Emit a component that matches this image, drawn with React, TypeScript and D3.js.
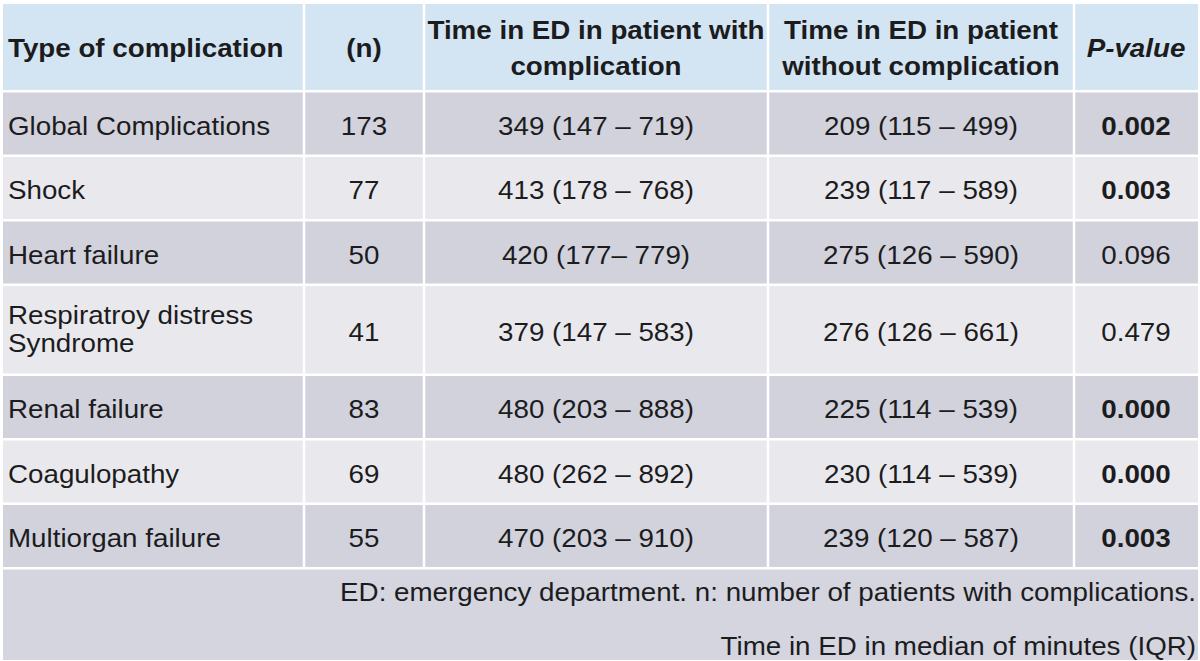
import React from "react";
import * as d3 from "d3";

const complications = [
  ["Global Complications"],
  ["Shock"],
  ["Heart failure"],
  ["Respiratroy distress", "Syndrome"],
  ["Renal failure"],
  ["Coagulopathy"],
  ["Multiorgan failure"],
];
const nCounts = ["173", "77", "50", "41", "83", "69", "55"];
const withComp = [
  "349 (147 – 719)",
  "413 (178 – 768)",
  "420 (177– 779)",
  "379 (147 – 583)",
  "480 (203 – 888)",
  "480 (262 – 892)",
  "470 (203 – 910)",
];
const withoutComp = [
  "209 (115 – 499)",
  "239 (117 – 589)",
  "275 (126 – 590)",
  "276 (126 – 661)",
  "225 (114 – 539)",
  "230 (114 – 539)",
  "239 (120 – 587)",
];
const pValues = ["0.002", "0.003", "0.096", "0.479", "0.000", "0.000", "0.003"];
const significant = [true, true, false, false, true, true, true];
const headers = [
  ["Type of complication"],
  ["(n)"],
  ["Time in ED in patient with", "complication"],
  ["Time in ED in patient", "without complication"],
  ["P-value"],
];
const footnotes = [
  "ED: emergency department. n: number of patients with complications.",
  "Time in ED in median of minutes (IQR)",
];

const W = 1200;
const H = 661;
const FONT = "'Liberation Sans', Arial, sans-serif";
const FS = 25;
const SX = 1.11;
const GAP = 2.5;

const colEdges = [3, 304, 424, 768, 1074, 1198];
const headerTop = 4;
const headerH = 86;
const rowH = 62;
const rowExtra = 25.5;

export default function App() {
  const rowHeights = complications.map((c) => rowH + (c.length - 1) * rowExtra);
  const rowTops: number[] = [];
  let y = headerTop + headerH + GAP;
  rowHeights.forEach((h) => {
    rowTops.push(y);
    y += h + GAP;
  });
  const footerTop = y;
  const footerH = 660 - footerTop;

  const rowColor = d3
    .scaleOrdinal<number, string>()
    .domain([0, 1])
    .range(["#d1d2dc", "#e9e9ed"]);

  const align = ["start", "middle", "middle", "middle", "middle"];
  const colX = (ci: number) => {
    if (ci === 0) return colEdges[0] + 5;
    return (colEdges[ci] + colEdges[ci + 1]) / 2;
  };

  const txt = (
    key: string,
    x: number,
    yc: number,
    s: string,
    anchor: string,
    weight = "normal",
    style = "normal"
  ) => (
    <text
      key={key}
      transform={`translate(${x},${yc}) scale(${SX},1)`}
      textAnchor={anchor as any}
      dominantBaseline="central"
      fontFamily={FONT}
      fontSize={FS}
      fontWeight={weight}
      fontStyle={style}
      fill="#1c1c1e"
    >
      {s}
    </text>
  );

  const lines = (
    key: string,
    x: number,
    top: number,
    h: number,
    arr: string[],
    anchor: string,
    gap: number,
    dy: number,
    weight = "normal",
    style = "normal"
  ) => {
    const mid = top + h / 2 + dy;
    const start = mid - ((arr.length - 1) * gap) / 2;
    return arr.map((s, i) =>
      txt(`${key}-${i}`, x, start + i * gap, s, anchor, weight, style)
    );
  };

  const cells: any[] = [];
  headers.forEach((hd, ci) => {
    const x0 = colEdges[ci] + (ci === 0 ? 0 : GAP / 2);
    const x1 = colEdges[ci + 1] - (ci === 4 ? 0 : GAP / 2);
    cells.push(
      <rect key={`h-${ci}`} x={x0} y={headerTop} width={x1 - x0} height={headerH} fill="#d3e5f2" />
    );
    cells.push(
      ...lines(`ht-${ci}`, colX(ci), headerTop, headerH, hd, align[ci], 36, 1, "bold", ci === 4 ? "italic" : "normal")
    );
  });

  complications.forEach((c, ri) => {
    const top = rowTops[ri];
    const h = rowHeights[ri];
    const values = [c, [nCounts[ri]], [withComp[ri]], [withoutComp[ri]], [pValues[ri]]];
    values.forEach((v, ci) => {
      const x0 = colEdges[ci] + (ci === 0 ? 0 : GAP / 2);
      const x1 = colEdges[ci + 1] - (ci === 4 ? 0 : GAP / 2);
      cells.push(
        <rect key={`r-${ri}-${ci}`} x={x0} y={top} width={x1 - x0} height={h} fill={rowColor(ri % 2)} />
      );
      cells.push(
        ...lines(
          `t-${ri}-${ci}`,
          colX(ci),
          top,
          h,
          v,
          align[ci],
          28,
          v.length > 1 ? -0.5 : 2.5,
          ci === 4 && significant[ri] ? "bold" : "normal"
        )
      );
    });
  });

  cells.push(
    <rect key="footer" x={colEdges[0]} y={footerTop} width={colEdges[5] - colEdges[0]} height={footerH} fill="#d4d5de" />
  );
  footnotes.forEach((f, i) => {
    cells.push(txt(`f-${i}`, colEdges[5] - 2, footerTop + 23 + i * 54, f, "end"));
  });

  return (
    <svg width={W} height={H} style={{ position: "absolute", left: 0, top: 0, background: "#ffffff" }}>
      <rect x={0} y={0} width={W} height={H} fill="#ffffff" />
      {cells}
    </svg>
  );
}
